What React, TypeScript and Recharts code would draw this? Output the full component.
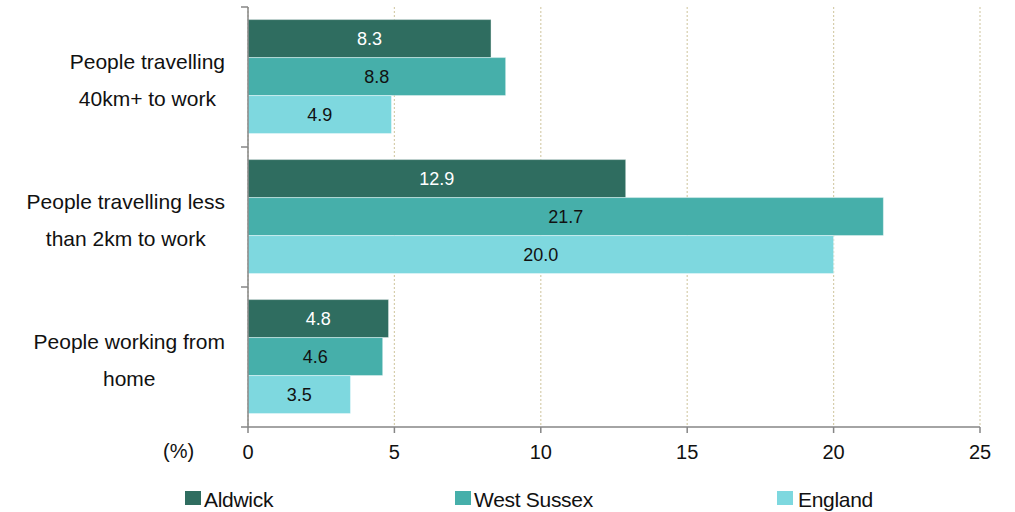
import React from "react";
import { BarChart, Bar, XAxis, YAxis, CartesianGrid, LabelList } from "recharts";

const categories = [
  ["People travelling", "40km+ to work"],
  ["People travelling less", "than 2km to work"],
  ["People working from", "home"],
];
const aldwick = [8.3, 12.9, 4.8];
const westSussex = [8.8, 21.7, 4.6];
const england = [4.9, 20.0, 3.5];
const xTicks = [0, 5, 10, 15, 20, 25];
const seriesNames = ["Aldwick", "West Sussex", "England"];
const seriesColors = ["#2F6D60", "#46AFAA", "#7ED8DF"];

const data = categories.map((c, i) => ({
  name: c.join(" "),
  lines: c,
  aldwick: aldwick[i],
  westSussex: westSussex[i],
  england: england[i],
}));

const W = 1015;
const H = 470;
const TOP = 7;
const XH = 43;
const YW = 248;
const PLOT_H = H - TOP - XH;
const BAND = PLOT_H / categories.length;
const FONT = '"Liberation Sans", Arial, sans-serif';
const AXIS_COLOR = "#868686";

let ctx: CanvasRenderingContext2D | null = null;
function measure(text: string, size: number) {
  if (!ctx) {
    const c = document.createElement("canvas");
    ctx = c.getContext("2d");
  }
  if (!ctx) return text.length * size * 0.5;
  ctx.font = `${size}px ${FONT}`;
  return ctx.measureText(text).width;
}

const YTick = (props: any) => {
  const { y, payload, index } = props;
  const d = data.find((r) => r.name === payload.value);
  const lines = d ? d.lines : [String(payload.value)];
  const size = 21;
  const maxW = Math.max(...lines.map((l) => measure(l, size)));
  const cx = 225 - maxW / 2;
  return (
    <g>
      <line x1={YW - 7} x2={YW} y1={y - BAND / 2} y2={y - BAND / 2} stroke={AXIS_COLOR} strokeWidth={1.5} />
      {index === categories.length - 1 && (
        <line x1={YW - 7} x2={YW} y1={y + BAND / 2} y2={y + BAND / 2} stroke={AXIS_COLOR} strokeWidth={1.5} />
      )}
      {lines.map((l, i) => (
        <text key={i} x={cx} y={y - 8 + i * 36.7} textAnchor="middle" fontSize={size} fontFamily={FONT} fill="#111">
          {l}
        </text>
      ))}
    </g>
  );
};

const XTick = (props: any) => {
  const { x, payload } = props;
  return (
    <text x={x} y={TOP + PLOT_H + 32} textAnchor="middle" fontSize={20} fontFamily={FONT} fill="#111">
      {payload.value}
    </text>
  );
};

const fmt = (v: any) => Number(v).toFixed(1);

export default function App() {
  return (
    <div style={{ position: "absolute", left: 0, top: 0, width: W, height: 512, background: "#fff" }}>
      <BarChart
        width={W}
        height={H}
        data={data}
        layout="vertical"
        margin={{ top: TOP, right: 35, left: 0, bottom: 0 }}
        barGap={0}
        barCategoryGap="9%"
      >
        <CartesianGrid horizontal={false} vertical stroke="#D6CEAC" strokeDasharray="2 2" strokeWidth={1.2} />
        <XAxis
          type="number"
          domain={[0, 25]}
          ticks={xTicks}
          height={XH}
          stroke={AXIS_COLOR}
          strokeWidth={1.5}
          tickSize={6}
          tick={<XTick />}
          interval={0}
        />
        <YAxis
          type="category"
          dataKey="name"
          width={YW}
          stroke={AXIS_COLOR}
          strokeWidth={1.5}
          tickLine={false}
          tick={<YTick />}
          interval={0}
        />
        <Bar dataKey="aldwick" fill={seriesColors[0]} stroke="#ffffff" strokeOpacity={0.4} isAnimationActive={false}>
          <LabelList dataKey="aldwick" position="center" formatter={fmt} fill="#ffffff" fontSize={18} fontFamily={FONT} />
        </Bar>
        <Bar dataKey="westSussex" fill={seriesColors[1]} stroke="#ffffff" strokeOpacity={0.4} isAnimationActive={false}>
          <LabelList dataKey="westSussex" position="center" formatter={fmt} fill="#111" fontSize={18} fontFamily={FONT} />
        </Bar>
        <Bar dataKey="england" fill={seriesColors[2]} stroke="#ffffff" strokeOpacity={0.4} isAnimationActive={false}>
          <LabelList dataKey="england" position="center" formatter={fmt} fill="#111" fontSize={18} fontFamily={FONT} />
        </Bar>
      </BarChart>
      <div
        style={{
          position: "absolute",
          left: 163,
          top: 439,
          fontSize: 20,
          fontFamily: FONT,
          color: "#111",
          lineHeight: "24px",
        }}
      >
        (%)
      </div>
      {seriesNames.map((n, i) => (
        <div
          key={n}
          style={{
            position: "absolute",
            left: [185, 455, 777][i],
            top: 488,
            display: "flex",
            alignItems: "flex-start",
            fontFamily: FONT,
            fontSize: 21,
            letterSpacing: "-0.3px",
            color: "#111",
            lineHeight: "24px",
            whiteSpace: "nowrap",
          }}
        >
          <span
            style={{
              display: "inline-block",
              width: 16,
              height: 14,
              marginTop: 3,
              background: seriesColors[i],
              marginRight: [3, 3, 5][i],
            }}
          />
          {n}
        </div>
      ))}
    </div>
  );
}
